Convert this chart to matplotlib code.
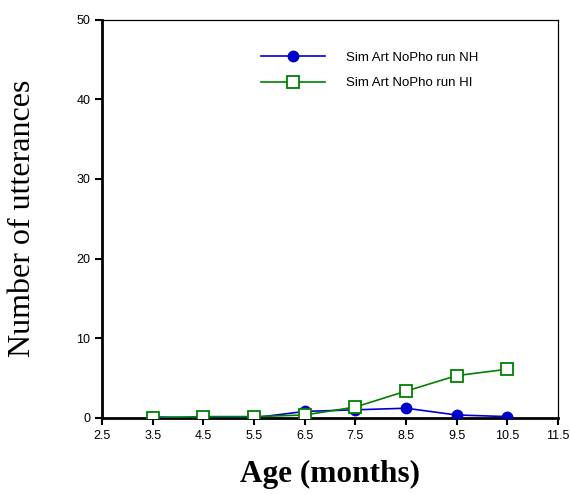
import numpy as np
import matplotlib.pyplot as plt

# Utterance counts by age
age = [3.5, 4.5, 5.5, 6.5, 7.5, 8.5, 9.5, 10.5]
run_nh = [0.1, 0.0, 0.0, 0.8, 1.0, 1.2, 0.35, 0.15]
run_hi = [0.0, 0.15, 0.15, 0.35, 1.35, 3.35, 5.3, 6.1]

x_ticks = np.arange(2.5, 12.0, 1.0)
y_ticks = [0, 10, 20, 30, 40, 50]

fig = plt.figure(figsize=(5.7, 4.95), dpi=100)
ax = fig.add_axes([0.179, 0.156, 0.800, 0.804])

ax.plot(age, run_nh, color="#0000cc", marker="o", markersize=7.5,
        linewidth=1.2, label="Sim Art NoPho run NH", zorder=3)
ax.plot(age, run_hi, color="#008000", marker="s", markersize=8,
        markerfacecolor="white", markeredgewidth=1.3,
        linewidth=1.2, label="Sim Art NoPho run HI", zorder=4)

ax.set_xlim(2.5, 11.5)
ax.set_ylim(0, 50)
ax.set_xticks(x_ticks)
ax.set_xticklabels([f"{v:.1f}" for v in x_ticks])
ax.set_yticks(y_ticks)

for side in ["top", "right"]:
    ax.spines[side].set_linewidth(0.9)
for side in ["left", "bottom"]:
    ax.spines[side].set_linewidth(2.0)

ax.tick_params(direction="out", length=5, width=1.5, labelsize=9,
               top=False, right=False)
for lbl in ax.get_xticklabels() + ax.get_yticklabels():
    lbl.set_family("Liberation Sans")

ax.set_xlabel("Age (months)", family="Liberation Serif", fontsize=22.5,
              fontweight="bold", labelpad=13)
ax.set_ylabel("Number of utterances", family="Liberation Serif",
              fontsize=23, labelpad=28)

leg = ax.legend(loc="upper left", bbox_to_anchor=(0.322, 0.95), frameon=False,
                handlelength=4.85, prop={"family": "Liberation Sans", "size": 9.5},
                labelspacing=1.0, handletextpad=1.6)

plt.savefig("out.png", dpi=100)
